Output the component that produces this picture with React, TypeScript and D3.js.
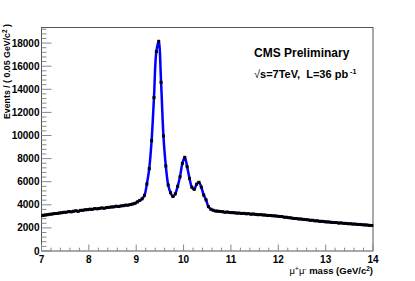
import React from "react";
import * as d3 from "d3";

// dimuon mass spectrum, 0.05 GeV bins from 7 to 14 GeV
const massMin = 7;
const binWidth = 0.05;
const events = [
  3070, 3110, 3140, 3180, 3200, 3240, 3250, 3290, 3310, 3350,
  3360, 3410, 3390, 3440, 3480, 3440, 3520, 3530, 3570, 3580,
  3620, 3610, 3670, 3650, 3690, 3730, 3700, 3760, 3780, 3810,
  3820, 3880, 3850, 3900, 3920, 3970, 3970, 4020, 4070, 4130,
  4250, 4380, 4520, 4820, 5800, 7130, 9550, 13280, 17260, 18150,
  14600, 9960, 7360, 5720, 5050, 4720, 4950, 5600, 6430, 7590,
  8110, 7300, 6290, 5520, 5340, 5780, 5950, 5520, 4850, 4420,
  3840, 3620, 3530, 3460, 3450, 3420, 3400, 3360, 3370, 3330,
  3320, 3310, 3280, 3280, 3250, 3260, 3220, 3230, 3190, 3200,
  3170, 3140, 3150, 3120, 3110, 3080, 3080, 3050, 3040, 3020,
  2990, 2980, 2930, 2920, 2880, 2860, 2820, 2810, 2780, 2770,
  2740, 2720, 2700, 2660, 2660, 2610, 2610, 2570, 2570, 2540,
  2520, 2510, 2480, 2470, 2460, 2420, 2430, 2400, 2390, 2360,
  2360, 2330, 2330, 2300, 2300, 2270, 2260, 2250, 2220, 2210,
];
const xMajor = [7, 8, 9, 10, 11, 12, 13, 14];
const yMajor = [0, 2000, 4000, 6000, 8000, 10000, 12000, 14000, 16000, 18000];

const W = 415;
const H = 281;
const left = 41.5;
const right = 373;
const top = 27.5;
const bottom = 251;
const font = "'Liberation Sans', Arial, Helvetica, sans-serif";

export default function App() {
  const x = d3.scaleLinear().domain([7, 14]).range([left, right]);
  const y = d3.scaleLinear().domain([0, 19350]).range([bottom, top]);

  const pts = events.map((v, i) => ({ m: massMin + binWidth * (i + 0.5), v }));
  const line = d3
    .line<{ m: number; v: number }>()
    .x((d) => x(d.m))
    .y((d) => y(d.v))
    .curve(d3.curveCatmullRom.alpha(0.5));

  const xMinor = d3.range(7, 14.0001, 0.2).filter((t) => Math.abs(t - Math.round(t)) > 1e-6);
  const yMinor = d3.range(0, 19350, 400).filter((t) => t % 2000 !== 0);

  return (
    <svg
      width={W}
      height={H}
      style={{ position: "absolute", left: 0, top: 0, background: "#fff" }}
      fontFamily={font}
    >
      <rect x={0} y={0} width={W} height={H} fill="#fff" />
      {/* frame */}
      <rect x={left} y={top} width={right - left} height={bottom - top} fill="none" stroke="#555" strokeWidth={1} />

      {/* ticks */}
      <g stroke="#888" strokeWidth={1}>
        {xMajor.map((t) => (
          <line key={"xM" + t} x1={x(t)} x2={x(t)} y1={bottom} y2={bottom - 6.5} />
        ))}
        {xMinor.map((t) => (
          <line key={"xm" + t} x1={x(t)} x2={x(t)} y1={bottom} y2={bottom - 3.3} />
        ))}
        {yMajor.map((t) => (
          <line key={"yM" + t} x1={left} x2={left + 10} y1={y(t)} y2={y(t)} />
        ))}
        {yMinor.map((t) => (
          <line key={"ym" + t} x1={left} x2={left + 5} y1={y(t)} y2={y(t)} />
        ))}
      </g>

      {/* tick labels */}
      <g fontSize={10} fontWeight="bold" fill="#000">
        {xMajor.map((t) => (
          <text key={"xl" + t} x={x(t)} y={bottom + 12} textAnchor="middle">
            {t}
          </text>
        ))}
        {yMajor.map((t) => (
          <text key={"yl" + t} x={left - 2} y={y(t) + 3.6} textAnchor="end">
            {t}
          </text>
        ))}
      </g>

      {/* axis titles */}
      <text x={373} y={274} textAnchor="end" fontSize={9.5} fill="#000">
        <tspan>μ</tspan>
        <tspan fontSize={6.5} dy={-3.5}>+</tspan>
        <tspan dy={3.5}>μ</tspan>
        <tspan fontSize={6.5} dy={-3.5}>-</tspan>
        <tspan dy={3.5} fontWeight="bold"> mass (GeV/c</tspan>
        <tspan fontSize={6.5} dy={-3.5} fontWeight="bold">2</tspan>
        <tspan dy={3.5} fontWeight="bold">)</tspan>
      </text>
      <text
        transform="translate(10,24) rotate(-90)"
        textAnchor="end"
        fontSize={8.8}
        fontWeight="bold"
        fill="#000"
      >
        <tspan>Events / ( 0.05 GeV/c</tspan>
        <tspan fontSize={6.5} dy={-3.5}>2</tspan>
        <tspan dy={3.5}> )</tspan>
      </text>

      {/* fit curve */}
      <path d={line(pts) ?? ""} fill="none" stroke="#0000ff" strokeWidth={2.5} />

      {/* data points with errors */}
      <g fill="#000" stroke="#000">
        {pts.map((d, i) => (
          <g key={i}>
            <line x1={x(d.m)} x2={x(d.m)} y1={y(d.v + Math.sqrt(d.v))} y2={y(d.v - Math.sqrt(d.v))} strokeWidth={1} />
            <rect x={x(d.m) - 1.5} y={y(d.v) - 1.5} width={3} height={3} stroke="none" />
          </g>
        ))}
      </g>

      {/* labels */}
      <text x={254} y={57} fontSize={12} fontWeight="bold" fill="#000">
        CMS Preliminary
      </text>
      <text x={254} y={78} fontSize={11} fontWeight="bold" fill="#000">
        <tspan fontWeight="normal">√</tspan>
        <tspan>{"s=7TeV,\u00a0 L=36 pb"}</tspan>
        <tspan fontSize={7} dy={-4}>{"\u00a0-1"}</tspan>
      </text>
    </svg>
  );
}
